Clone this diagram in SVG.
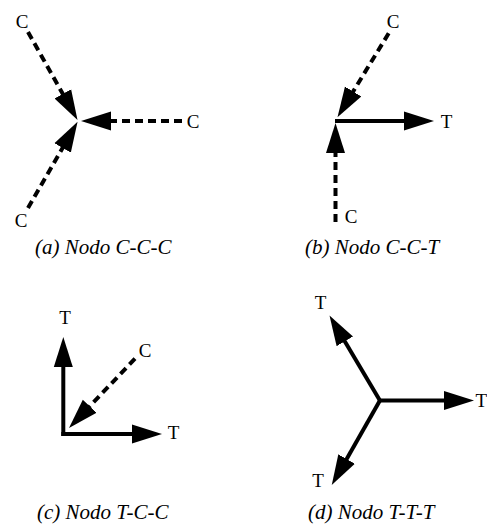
<svg xmlns="http://www.w3.org/2000/svg" width="487" height="525" viewBox="0 0 487 525">
<style>
.lbl{font-family:"Liberation Serif","Times New Roman",serif;font-size:19px;fill:#000;text-anchor:middle}
.cap{font-family:"Liberation Serif","Times New Roman",serif;font-size:21px;font-style:italic;fill:#000}
.solid{stroke:#000;stroke-width:4;fill:none;marker-end:url(#head)}
.dash{stroke:#000;stroke-width:4;fill:none;stroke-dasharray:8 5;marker-end:url(#head)}
</style>
<defs>
<marker id="head" markerUnits="userSpaceOnUse" viewBox="0 -10 32 20" markerWidth="32" markerHeight="20" refX="1" refY="0" orient="auto">
<path d="M0,-9.5 L30,0 L0,9.5 Z" fill="#000"/>
</marker>
</defs>
<rect width="487" height="525" fill="#fff"/>
<g id="connectors">
<line class="dash" x1="28" y1="32" x2="63.3" y2="94.8"/>
<line class="dash" x1="182" y1="121" x2="110" y2="121"/>
<line class="dash" x1="28" y1="208" x2="63.1" y2="147"/>
<line class="dash" x1="388.7" y1="33.3" x2="352.6" y2="92.4"/>
<line class="solid" x1="335" y1="121" x2="405" y2="121"/>
<line class="dash" x1="335.5" y1="222" x2="335.5" y2="152"/>
<line class="solid" x1="63.3" y1="436" x2="63.3" y2="366"/>
<line class="solid" x1="61.3" y1="434" x2="133" y2="434"/>
<line class="dash" x1="135" y1="358.7" x2="89" y2="407"/>
<line class="solid" x1="378" y1="400.5" x2="445" y2="400.5"/>
<line class="solid" x1="380.5" y1="401.5" x2="344.3" y2="340.5"/>
<line class="solid" x1="380.5" y1="399.5" x2="346.1" y2="459.9"/>
</g>
<g id="node-a">
<text class="lbl" x="22" y="28">C</text>
<text class="lbl" x="193" y="128">C</text>
<text class="lbl" x="21" y="227">C</text>
<text class="cap" x="35" y="254">(a) Nodo C-C-C</text>
</g>
<g id="node-b">
<text class="lbl" x="393" y="28">C</text>
<text class="lbl" x="446.5" y="128">T</text>
<text class="lbl" x="351" y="223">C</text>
<text class="cap" x="305" y="254">(b) Nodo C-C-T</text>
</g>
<g id="node-c">
<text class="lbl" x="65" y="324">T</text>
<text class="lbl" x="145" y="357">C</text>
<text class="lbl" x="173.5" y="439">T</text>
<text class="cap" x="37" y="519">(c) Nodo T-C-C</text>
</g>
<g id="node-d">
<text class="lbl" x="320.5" y="309">T</text>
<text class="lbl" x="487" y="407" style="text-anchor:end">T</text>
<text class="lbl" x="318" y="487">T</text>
<text class="cap" x="308" y="519">(d) Nodo T-T-T</text>
</g>
</svg>
